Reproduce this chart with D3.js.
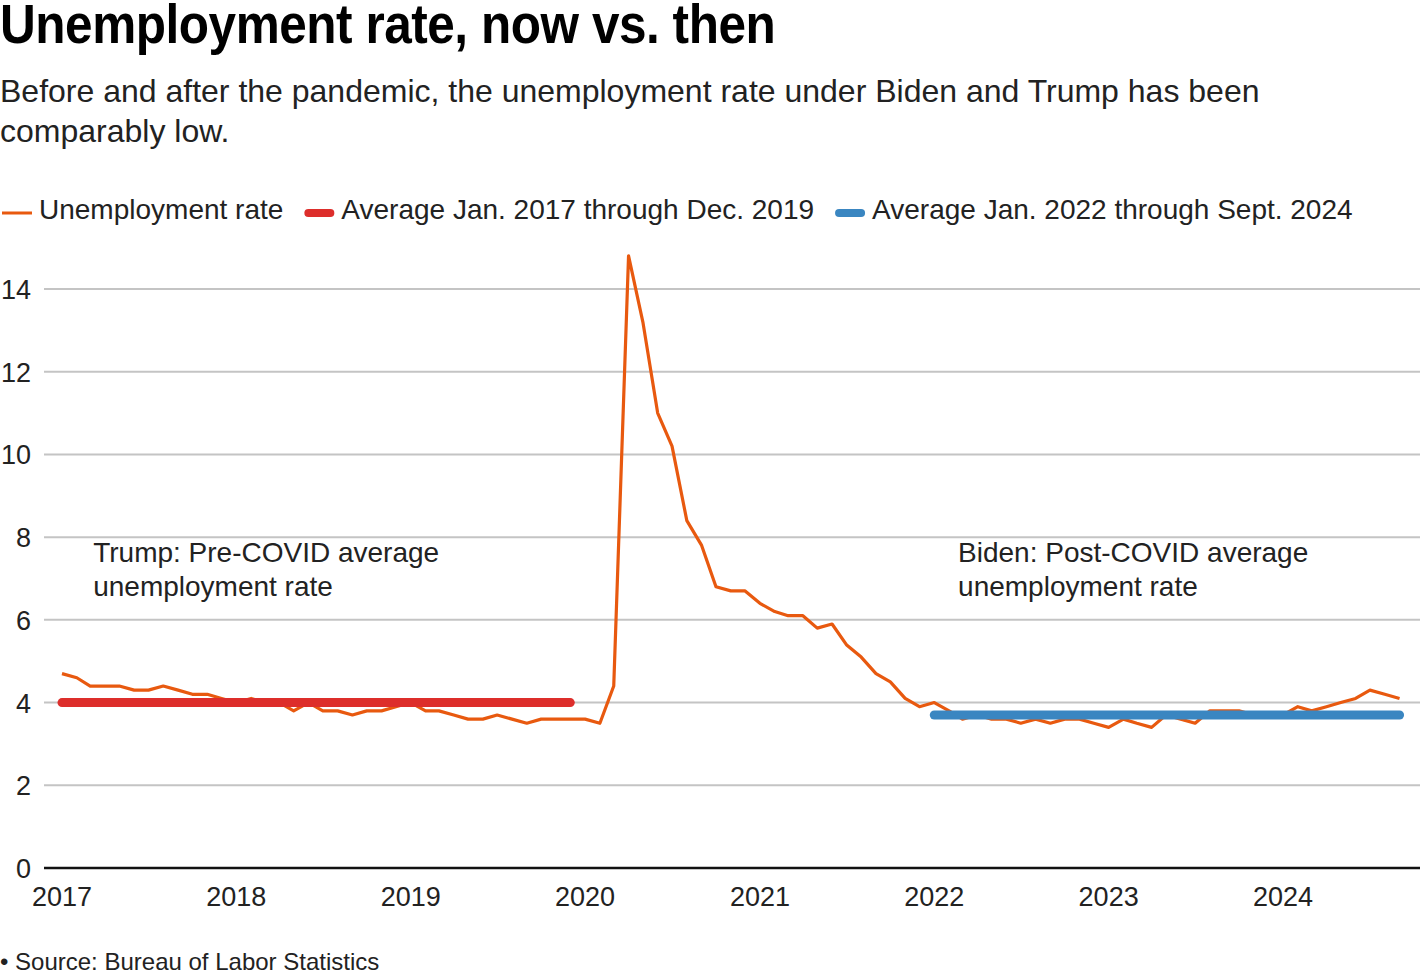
<!DOCTYPE html>
<html>
<head>
<meta charset="utf-8">
<script src="https://cdn.jsdelivr.net/npm/d3@7"></script>
<style>
  body { margin: 0; background: #fff; }
  svg text { font-family: "Liberation Sans", Arial, Helvetica, sans-serif; fill: #222; }
  .title { font-weight: bold; font-size: 55px; letter-spacing: -0.5px; fill: #000; }
  .sub { font-size: 32px; }
  .legend text { font-size: 28px; }
  .note { font-size: 28px; }
  .source { font-size: 24px; }
</style>
</head>
<body>
<svg id="chart" width="1420" height="980"></svg>
<script>
// monthly unemployment rate, Jan. 2017 - Sept. 2024 (%)
const START = "2017-01";
const rates2017 = [4.7, 4.6, 4.4, 4.4, 4.4, 4.3, 4.3, 4.4, 4.3, 4.2, 4.2, 4.1];
const rates2018 = [4.0, 4.1, 4.0, 4.0, 3.8, 4.0, 3.8, 3.8, 3.7, 3.8, 3.8, 3.9];
const rates2019 = [4.0, 3.8, 3.8, 3.7, 3.6, 3.6, 3.7, 3.6, 3.5, 3.6, 3.6, 3.6];
const rates2020 = [3.6, 3.5, 4.4, 14.8, 13.2, 11.0, 10.2, 8.4, 7.8, 6.8, 6.7, 6.7];
const rates2021 = [6.4, 6.2, 6.1, 6.1, 5.8, 5.9, 5.4, 5.1, 4.7, 4.5, 4.1, 3.9];
const rates2022 = [4.0, 3.8, 3.6, 3.7, 3.6, 3.6, 3.5, 3.6, 3.5, 3.6, 3.6, 3.5];
const rates2023 = [3.4, 3.6, 3.5, 3.4, 3.7, 3.6, 3.5, 3.8, 3.8, 3.8, 3.7, 3.7];
const rates2024 = [3.7, 3.9, 3.8, 3.9, 4.0, 4.1, 4.3, 4.2, 4.1];

// period averages
const averages = [
  {key: "trump", from: "2017-01", to: "2019-12", value: 4.0},
  {key: "biden", from: "2022-01", to: "2024-09", value: 3.7}
];

const yTicks = [0, 2, 4, 6, 8, 10, 12, 14];
const xTickYears = ["2017", "2018", "2019", "2020", "2021", "2022", "2023", "2024"];

const legendItems = [
  {key: "rate", label: "Unemployment rate"},
  {key: "trump", label: "Average Jan. 2017 through Dec. 2019"},
  {key: "biden", label: "Average Jan. 2022 through Sept. 2024"}
];

const notes = [
  {at: "2017-03", lines: ["Trump: Pre-COVID average", "unemployment rate"]},
  {at: "2022-02", lines: ["Biden: Post-COVID average", "unemployment rate"]}
];

const COLORS = {rate: "#e8590f", trump: "#dd2e2b", biden: "#3a86c1"};

/* ---------------------------------- */
const parseMonth = d3.timeParse("%Y-%m");
const parseYear = d3.timeParse("%Y");

const allRates = [].concat(rates2017, rates2018, rates2019, rates2020,
                           rates2021, rates2022, rates2023, rates2024);
const series = allRates.map((v, i) => ({date: d3.timeMonth.offset(parseMonth(START), i), value: v}));

const svg = d3.select("#chart");

const x = d3.scaleTime()
            .domain([parseYear("2017"), parseYear("2024")])
            .range([62, 1283]);
const y = d3.scaleLinear()
            .domain([0, 14])
            .range([868, 289]);

// title + subtitle (title squeezed a bit, the original face is narrower)
svg.append("text").attr("class", "title")
   .attr("transform", "translate(0,43) scale(0.9,1)")
   .text("Unemployment rate, now vs. then");
svg.append("text").attr("class", "sub").attr("x", 0).attr("y", 102)
   .text("Before and after the pandemic, the unemployment rate under Biden and Trump has been");
svg.append("text").attr("class", "sub").attr("x", 0).attr("y", 142)
   .text("comparably low.");

// legend
const legend = svg.append("g").attr("class", "legend").attr("transform", "translate(0,219)");
let lx = 2;
legendItems.forEach(function(d){
    const g = legend.append("g").attr("transform", "translate(" + lx + ",0)");
    g.append("line")
     .attr("x1", d.key === "rate" ? 0 : 4).attr("x2", d.key === "rate" ? 30 : 26)
     .attr("y1", -6).attr("y2", -6)
     .attr("stroke", COLORS[d.key])
     .attr("stroke-width", d.key === "rate" ? 3 : 8)
     .attr("stroke-linecap", d.key === "rate" ? "butt" : "round");
    const t = g.append("text").attr("x", 37).attr("y", 0).text(d.label);
    lx += 37 + t.node().getComputedTextLength() + 21;
});

// gridlines + y labels
const yAxis = svg.append("g");
yAxis.selectAll("line.grid")
     .data(yTicks.filter((d) => d > 0))
     .enter()
     .append("line")
     .attr("x1", 44).attr("x2", 1420)
     .attr("y1", (d) => y(d)).attr("y2", (d) => y(d))
     .attr("stroke", "#c4c4c4").attr("stroke-width", 2);
yAxis.selectAll("text")
     .data(yTicks)
     .enter()
     .append("text")
     .style("font-size", "27px")
     .attr("x", 31)
     .attr("y", (d) => y(d) + 10)
     .attr("text-anchor", "end")
     .text((d) => d);

// x axis baseline + labels
svg.append("line")
   .attr("x1", 44).attr("x2", 1420)
   .attr("y1", y(0)).attr("y2", y(0))
   .attr("stroke", "#111").attr("stroke-width", 2.5);
svg.selectAll("text.xtick")
   .data(xTickYears)
   .enter()
   .append("text")
   .attr("class", "xtick")
   .style("font-size", "27px")
   .attr("x", (d) => x(parseYear(d)))
   .attr("y", 906)
   .attr("text-anchor", "middle")
   .text((d) => d);

// average lines
svg.selectAll("line.avg")
   .data(averages)
   .enter()
   .append("line")
   .attr("class", "avg")
   .attr("x1", (d) => x(parseMonth(d.from)))
   .attr("x2", (d) => x(parseMonth(d.to)))
   .attr("y1", (d) => y(d.value))
   .attr("y2", (d) => y(d.value))
   .attr("stroke", (d) => COLORS[d.key])
   .attr("stroke-width", 9)
   .attr("stroke-linecap", "round");

// rate line
const line = d3.line().x((d) => x(d.date)).y((d) => y(d.value));
svg.append("path")
   .datum(series)
   .attr("d", line)
   .attr("fill", "none")
   .attr("stroke", COLORS.rate)
   .attr("stroke-width", 3.2)
   .attr("stroke-linejoin", "round");

// average lines sit on top of the rate line
svg.selectAll("line.avg").raise();

// annotations
notes.forEach(function(n){
    const nx = x(parseMonth(n.at)) + (n.at < "2020" ? 3 : 9);
    const t = svg.append("text").attr("class", "note").attr("y", y(8) + 25);
    n.lines.forEach((l, i) => t.append("tspan").attr("x", nx).attr("dy", i ? 34 : 0).text(l));
});

// source
svg.append("text").attr("class", "source").attr("x", 0).attr("y", 970)
   .text("\u2022 Source: Bureau of Labor Statistics");
</script>
</body>
</html>
